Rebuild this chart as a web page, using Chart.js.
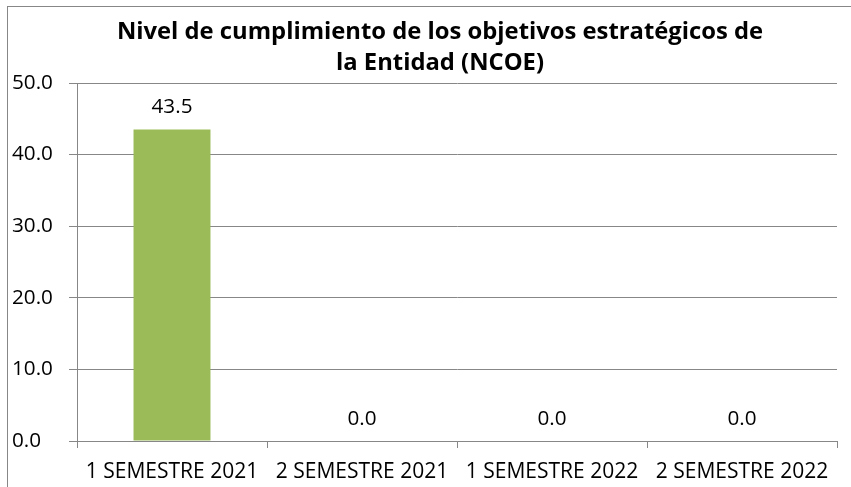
<!DOCTYPE html>
<html>
<head>
<meta charset="utf-8">
<script src="https://cdn.jsdelivr.net/npm/chart.js@4.4.0/dist/chart.umd.min.js"></script>
<style>
  html, body { margin: 0; padding: 0; background: #fff; overflow: hidden; }
  #wrap { width: 851px; height: 487px; }
</style>
</head>
<body>
<div id="wrap"><canvas id="ncoeChart" width="851" height="487"></canvas></div>
<script>
const categories = ['1 SEMESTRE 2021', '2 SEMESTRE 2021', '1 SEMESTRE 2022', '2 SEMESTRE 2022'];
const ncoeValues = [43.5, 0.0, 0.0, 0.0];
const yTicks = [0, 10, 20, 30, 40, 50];
const titleLines = ['Nivel de cumplimiento de los objetivos estratégicos de', 'la Entidad (NCOE)'];

const FONT = '"Open Sans", "Noto Sans", sans-serif';
const GRID = '#878787';

// pick a font size so a sample string is as wide as in the original picture
function fitSize(text, weight, target) {
    const c = document.createElement('canvas').getContext('2d');
    c.font = weight + ' 100px ' + FONT;
    return Math.round(100 * target / c.measureText(text).width * 10) / 10;
}
const titleSize = fitSize(titleLines[0], 'bold', 645);
const catSize = fitSize(categories[0], 'normal', 172);
const tickSize = fitSize('50.0', 'normal', 41);

const framePlugin = {
    id: 'frame',
    beforeDraw(chart) {
        const ctx = chart.ctx;
        ctx.save();
        ctx.fillStyle = '#fff';
        ctx.fillRect(0, 0, chart.width, chart.height);
        ctx.strokeStyle = GRID;
        ctx.lineWidth = 1;
        ctx.strokeRect(7.5, 6.5, 1000, 1000);
        ctx.fillStyle = '#000';
        ctx.font = 'bold ' + titleSize + 'px ' + FONT;
        ctx.textAlign = 'center';
        ctx.textBaseline = 'middle';
        ctx.fillText(titleLines[0], 440, 32);
        ctx.fillText(titleLines[1], 440, 63);
        ctx.restore();
    }
};

const valueLabels = {
    id: 'valueLabels',
    afterDatasetsDraw(chart) {
        const ctx = chart.ctx;
        const meta = chart.getDatasetMeta(0);
        ctx.save();
        ctx.fillStyle = '#000';
        ctx.font = tickSize + 'px ' + FONT;
        ctx.textAlign = 'center';
        ctx.textBaseline = 'middle';
        meta.data.forEach((bar, i) => {
            ctx.fillText(ncoeValues[i].toFixed(1), bar.x, bar.y - 22);
        });
        ctx.restore();
    }
};

const ctx = document.getElementById('ncoeChart').getContext('2d');
const chart = new Chart(ctx, {
    type: 'bar',
    data: {
        labels: categories,
        datasets: [{
            label: 'NCOE',
            data: ncoeValues,
            backgroundColor: '#9BBB59',
            borderWidth: 0,
            categoryPercentage: 1.0,
            barPercentage: 0.405
        }]
    },
    options: {
        responsive: false,
        animation: false,
        layout: { padding: { top: 83, right: 14, left: 12, bottom: 0 } },
        plugins: {
            legend: { display: false },
            tooltip: { enabled: false },
            title: { display: false }
        },
        scales: {
            x: {
                grid: { offset: true, drawOnChartArea: false, color: GRID, tickLength: 7 },
                border: { color: GRID },
                ticks: { color: '#000', font: { family: FONT, size: catSize }, padding: 11, maxRotation: 0, autoSkip: false },
                afterFit(scale) { scale.height = 46; }
            },
            y: {
                min: 0,
                max: 50,
                afterBuildTicks(scale) { scale.ticks = yTicks.map(v => ({ value: v })); },
                grid: { color: GRID, tickLength: 8 },
                border: { color: GRID },
                ticks: {
                    color: '#000',
                    font: { family: FONT, size: tickSize },
                    crossAlign: 'far',
                    callback: v => v.toFixed(1)
                },
                afterFit(scale) { scale.width = 65; }
            }
        }
    },
    plugins: [framePlugin, valueLabels]
});
</script>
</body>
</html>
